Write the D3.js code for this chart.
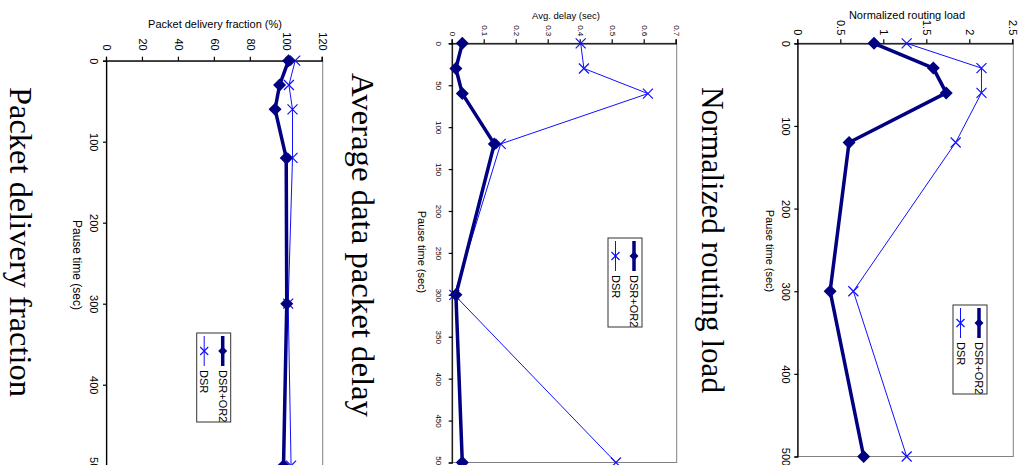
<!DOCTYPE html>
<html lang="en">
<head>
<meta charset="UTF-8">
<title>DSR vs DSR+OR2</title>
<script src="https://d3js.org/d3.v7.min.js"></script>
<style>
  body { margin: 0; background: #fff; overflow: hidden; }
  svg { display: block; }
  .tick text { font-family: 'Liberation Sans', Arial, sans-serif; fill: #000; }
</style>
</head>
<body>
<div id="chart"></div>
<script>
// Pause times (sec) shared by all three charts
const pause = [0, 30, 60, 120, 300, 500];
const seriesNames = ["DSR+OR2", "DSR"];

// Normalized routing load
const nrlOr2 = [0.88, 1.57, 1.72, 0.59, 0.37, 0.76];
const nrlDsr = [1.26, 2.13, 2.13, 1.83, 0.64, 1.26];
// Average data packet delay (sec)
const delayOr2 = [0.03, 0.01, 0.03, 0.13, 0.01, 0.03];
const delayDsr = [0.40, 0.41, 0.61, 0.15, 0.005, 0.51];
// Packet delivery fraction (%)
const pdfOr2 = [101, 96, 93.5, 99.7, 100, 98.2];
const pdfDsr = [104.7, 101.2, 103.2, 103.2, 100.8, 102.4];

// tick labels
const nrlTicks = [0, 0.5, 1, 1.5, 2, 2.5];
const delayTicks = [0, 0.1, 0.2, 0.3, 0.4, 0.5, 0.6, 0.7];
const pdfTicks = [0, 20, 40, 60, 80, 100, 120];
const pauseTicks100 = [0, 100, 200, 300, 400, 500];
const pauseTicks50 = [0, 50, 100, 150, 200, 250, 300, 350, 400, 450, 500];

const W = 1026, H = 465;
const navy = "#000080", blue = "#1010ff";

// panel layout in screen pixels (page is rotated 90deg clockwise)
const panels = [
  { caption: "Normalized routing load", valueTitle: "Normalized routing load",
    or2: nrlOr2, dsr: nrlDsr, vTicks: nrlTicks, pTicks: pauseTicks100, max: 2.5,
    top: 43.3, bottom: 456.5, x0: 798.3, x1: 1013.3,
    vFont: 11, pFont: 11, vPad: 4, pPad: 5,
    vTitle: [907, 15, 11], pTitle: [770, 251, 11],
    cap: [702, 240, 306], legend: [953, 305, 987, 394] },
  { caption: "Average data packet delay", valueTitle: "Avg. delay (sec)",
    or2: delayOr2, dsr: delayDsr, vTicks: delayTicks, pTicks: pauseTicks50, max: 0.7,
    top: 43.3, bottom: 462.5, x0: 452.7, x1: 676.7,
    vFont: 8, pFont: 8, vPad: 3, pPad: 7,
    vTitle: [566, 15, 9.5], pTitle: [422, 252, 11],
    cap: [352, 245, 344], legend: [608, 238, 642, 327] },
  { caption: "Packet delivery fraction", valueTitle: "Packet delivery fraction (%)",
    or2: pdfOr2, dsr: pdfDsr, vTicks: pdfTicks, pTicks: pauseTicks100, max: 120,
    top: 60.7, bottom: 465.7, x0: 107, x1: 322.7,
    vFont: 11, pFont: 11, vPad: 6, pPad: 5,
    vTitle: [215, 24, 11], pTitle: [77, 265, 12],
    cap: [10, 242, 310], legend: [196.7, 333, 230.7, 422] }
];

const svg = d3.select("#chart").append("svg")
  .attr("width", W).attr("height", H);

// inside g: u = screen y, v = W - screen x
const g = svg.append("g").attr("transform", `translate(${W},0) rotate(90)`);

const diamond = r => `M0,${-r}L${r},0L0,${r}L${-r},0Z`;
const cross = r => `M${-r},${-r}L${r},${r}M${-r},${r}L${r},${-r}`;

panels.forEach(p => {
  const xs = d3.scaleLinear().domain([0, 500]).range([p.top, p.bottom]);
  const ys = d3.scaleLinear().domain([0, p.max]).range([W - p.x0, W - p.x1]);
  const chart = g.append("g");

  // plot border
  chart.append("rect")
    .attr("x", p.top).attr("y", W - p.x1)
    .attr("width", p.bottom - p.top).attr("height", p.x1 - p.x0)
    .attr("fill", "none").attr("stroke", "#808080").attr("stroke-width", 1);

  // value axis
  const va = chart.append("g")
    .attr("transform", `translate(${p.top},0)`)
    .call(d3.axisLeft(ys).tickValues(p.vTicks).tickFormat(d => String(d))
      .tickSize(4).tickPadding(p.vPad));
  va.selectAll("text").attr("font-size", p.vFont);
  va.selectAll("path, line").attr("stroke", "#000").attr("stroke-width", 1.2);

  // pause axis
  const pa = chart.append("g")
    .attr("transform", `translate(0,${W - p.x0})`)
    .call(d3.axisBottom(xs).tickValues(p.pTicks).tickSize(4).tickPadding(p.pPad));
  pa.selectAll("text").attr("font-size", p.pFont);
  pa.selectAll("path, line").attr("stroke", "#000").attr("stroke-width", 1.2);

  // titles
  chart.append("text")
    .attr("transform", `translate(${p.vTitle[1]},${W - p.vTitle[0]}) rotate(-90)`)
    .attr("text-anchor", "middle").attr("dominant-baseline", "central")
    .attr("font-family", "'Liberation Sans', Arial, sans-serif")
    .attr("font-size", p.vTitle[2]).text(p.valueTitle);

  chart.append("text")
    .attr("x", p.pTitle[1]).attr("y", W - p.pTitle[0])
    .attr("text-anchor", "middle").attr("dominant-baseline", "central")
    .attr("font-family", "'Liberation Sans', Arial, sans-serif")
    .attr("font-size", p.pTitle[2]).text("Pause time (sec)");

  chart.append("text")
    .attr("x", p.cap[1]).attr("y", W - p.cap[0])
    .attr("text-anchor", "middle")
    .attr("font-family", "'Liberation Serif', 'Times New Roman', serif")
    .attr("font-size", 31)
    .attr("textLength", p.cap[2]).attr("lengthAdjust", "spacingAndGlyphs")
    .text(p.caption);

  // series
  const line = d3.line().x(d => xs(d[0])).y(d => ys(d[1]));
  const dsrPts = pause.map((t, i) => [t, p.dsr[i]]);
  const or2Pts = pause.map((t, i) => [t, p.or2[i]]);

  chart.append("path").datum(dsrPts).attr("d", line)
    .attr("fill", "none").attr("stroke", blue).attr("stroke-width", 1);
  chart.selectAll(".xm").data(dsrPts).enter().append("path")
    .attr("class", "xm")
    .attr("transform", d => `translate(${xs(d[0])},${ys(d[1])})`)
    .attr("d", cross(5)).attr("stroke", blue).attr("stroke-width", 1.2).attr("fill", "none");

  chart.append("path").datum(or2Pts).attr("d", line)
    .attr("fill", "none").attr("stroke", navy).attr("stroke-width", 3.5)
    .attr("stroke-linejoin", "round");
  chart.selectAll(".dm").data(or2Pts).enter().append("path")
    .attr("class", "dm")
    .attr("transform", d => `translate(${xs(d[0])},${ys(d[1])})`)
    .attr("d", diamond(6.5)).attr("fill", navy);

  // legend
  const [lx0, ly0, lx1, ly1] = p.legend;
  const lg = chart.append("g").attr("transform", `translate(${ly0},${W - lx1})`);
  lg.append("rect").attr("width", ly1 - ly0).attr("height", lx1 - lx0)
    .attr("fill", "#fff").attr("stroke", "#333").attr("stroke-width", 1);
  seriesNames.forEach((name, i) => {
    const vy = i === 0 ? 8 : 26.5;
    const col = i === 0 ? navy : blue;
    lg.append("line").attr("x1", 3).attr("x2", 33).attr("y1", vy).attr("y2", vy)
      .attr("stroke", col).attr("stroke-width", i === 0 ? 3.5 : 1);
    lg.append("path").attr("transform", `translate(18,${vy})`)
      .attr("d", i === 0 ? diamond(4.5) : cross(4))
      .attr("fill", i === 0 ? navy : "none").attr("stroke", i === 0 ? "none" : col)
      .attr("stroke-width", 1.2);
    lg.append("text").attr("x", 37).attr("y", vy)
      .attr("dominant-baseline", "central")
      .attr("font-family", "'Liberation Sans', Arial, sans-serif")
      .attr("font-size", 11).text(name);
  });
});
</script>
</body>
</html>
